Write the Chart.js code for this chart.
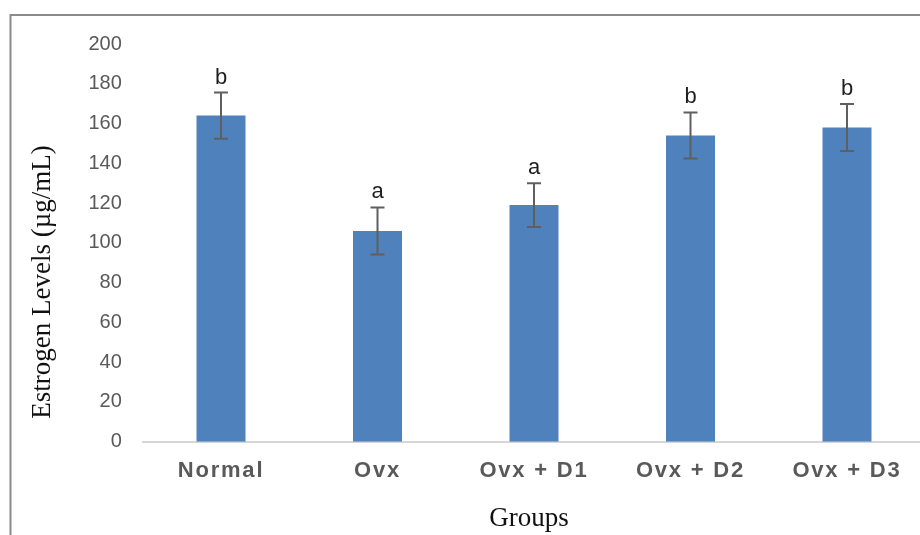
<!DOCTYPE html>
<html>
<head>
<meta charset="utf-8">
<script src="https://cdn.jsdelivr.net/npm/chart.js@4.4.1/dist/chart.umd.min.js"></script>
<style>
  html, body { margin: 0; padding: 0; background: #ffffff; }
  #wrap { width: 920px; height: 535px; overflow: hidden; position: relative; }
  canvas { display: block; }
</style>
</head>
<body>
<div id="wrap"><canvas id="chart" width="930" height="535"></canvas></div>
<script>
// Serum estrogen per treatment group (mean ± error), with significance letters
const categories = ['Normal', 'Ovx', 'Ovx + D1', 'Ovx + D2', 'Ovx + D3'];
const estrogenMeans = [164, 106, 119, 154, 158];
const estrogenErrors = [11.6, 11.8, 11, 11.6, 11.8];
const groupLetters = ['b', 'a', 'a', 'b', 'b'];
const yAxisMin = 0;
const yAxisMax = 200;
const yAxisStep = 20;
const yAxisTitle = 'Estrogen Levels (\u00b5g/mL)';
const xAxisTitle = 'Groups';

const BAR_BLUE = '#4f81bd';
const TICK_GREY = '#595959';

// Outer frame, drawn behind everything
const framePlugin = {
  id: 'frame',
  beforeDraw(chart) {
    const ctx = chart.ctx;
    ctx.save();
    ctx.fillStyle = '#ffffff';
    ctx.fillRect(0, 0, chart.width, chart.height);
    ctx.strokeStyle = '#8a8a8a';
    ctx.lineWidth = 2;
    ctx.beginPath();
    ctx.moveTo(10.5, chart.height + 5);
    ctx.lineTo(10.5, 15);
    ctx.lineTo(chart.width + 5, 15);
    ctx.stroke();
    ctx.restore();
  }
};

// Error bars and significance letters on top of each bar
const errorBarPlugin = {
  id: 'errorBars',
  afterDatasetsDraw(chart) {
    const ctx = chart.ctx;
    const yScale = chart.scales.y;
    const meta = chart.getDatasetMeta(0);
    ctx.save();
    meta.data.forEach((bar, i) => {
      const x = bar.x;
      const yTop = yScale.getPixelForValue(estrogenMeans[i] + estrogenErrors[i]);
      const yBot = yScale.getPixelForValue(estrogenMeans[i] - estrogenErrors[i]);
      ctx.strokeStyle = '#5f5f5f';
      ctx.lineWidth = 2;
      ctx.beginPath();
      ctx.moveTo(x, yTop);
      ctx.lineTo(x, yBot);
      ctx.moveTo(x - 7, yTop);
      ctx.lineTo(x + 7, yTop);
      ctx.moveTo(x - 7, yBot);
      ctx.lineTo(x + 7, yBot);
      ctx.stroke();

      ctx.fillStyle = '#1e1e1e';
      ctx.font = '22px "Liberation Sans", Arial, sans-serif';
      ctx.textAlign = 'center';
      ctx.textBaseline = 'alphabetic';
      ctx.fillText(groupLetters[i], x, yTop - 9);
    });
    ctx.restore();
    // category labels are drawn in a later layer with wider tracking
    ctx.letterSpacing = '1.8px';
  },
  afterDraw(chart) {
    chart.ctx.letterSpacing = '0px';
  }
};

// Axis titles in a serif face
const axisTitlePlugin = {
  id: 'axisTitles',
  afterDraw(chart) {
    const ctx = chart.ctx;
    ctx.save();
    ctx.fillStyle = '#111111';
    ctx.font = '27px "Liberation Serif", "Times New Roman", serif';
    ctx.textAlign = 'center';
    ctx.textBaseline = 'alphabetic';
    ctx.fillText(xAxisTitle, 529, 526);
    ctx.translate(50, 282);
    ctx.rotate(-Math.PI / 2);
    ctx.fillText(yAxisTitle, 0, 0);
    ctx.restore();
  }
};

new Chart(document.getElementById('chart'), {
  type: 'bar',
  data: {
    labels: categories,
    datasets: [{
      data: estrogenMeans,
      backgroundColor: BAR_BLUE,
      borderWidth: 0,
      barPercentage: 0.313,
      categoryPercentage: 1.0
    }]
  },
  options: {
    responsive: false,
    animation: false,
    layout: { padding: { left: 0, top: 44, right: 4.75, bottom: 0 } },
    plugins: {
      legend: { display: false },
      tooltip: { enabled: false }
    },
    scales: {
      x: {
        afterFit(scale) { scale.height = 93.3; },
        grid: { display: false, drawTicks: false },
        border: { display: true, color: '#d6d6d6', width: 2 },
        ticks: {
          z: 1,
          padding: 16,
          color: TICK_GREY,
          maxRotation: 0,
          autoSkip: false,
          font: { family: '"Liberation Sans", Arial, sans-serif', size: 22, weight: 'bold' }
        }
      },
      y: {
        min: yAxisMin,
        max: yAxisMax,
        afterFit(scale) { scale.width = 142.75; },
        grid: { display: false, drawTicks: false },
        border: { display: false },
        ticks: {
          stepSize: yAxisStep,
          padding: 21,
          color: TICK_GREY,
          font: { family: '"Liberation Sans", Arial, sans-serif', size: 20 }
        }
      }
    }
  },
  plugins: [framePlugin, errorBarPlugin, axisTitlePlugin]
});
</script>
</body>
</html>
